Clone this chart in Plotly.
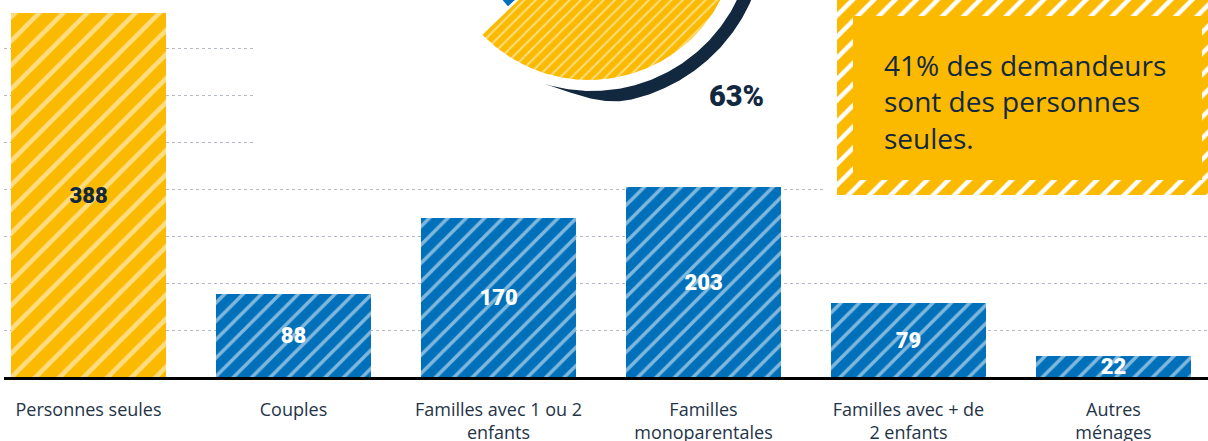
import numpy as np
import plotly.graph_objects as go

# ---- data -------------------------------------------------------------
categories = [
    "Personnes seules",
    "Couples",
    "Familles avec 1 ou 2<br>enfants",
    "Familles<br>monoparentales",
    "Familles avec + de<br>2 enfants",
    "Autres<br>ménages",
]
demandeurs = [388, 88, 170, 203, 79, 22]
highlighted = [True, False, False, False, False, False]

pie_shares = [63, 37]          # highlighted share vs. the rest
pie_label = "63%"
callout_lines = ["41% des demandeurs", "sont des personnes", "seules."]

# ---- style ------------------------------------------------------------
YELLOW = "#FBBA00"
BLUE = "#0070BA"
NAVY = "#12283F"
TEXT = "#243447"
GRID = "#b3bac5"

W, H = 1208, 441
ML, MR, MT, MB = 4, 0, 0, 64
PLOT_W, PLOT_H = W - ML - MR, H - MT - MB
PX_PER_UNIT = 364 / 388.0
Y_MAX = PLOT_H / PX_PER_UNIT
SLOT = 205.0
FIRST_CENTER = 88.5 - ML
X_RANGE = [-FIRST_CENTER / SLOT, (PLOT_W - FIRST_CENTER) / SLOT]


def px_to_x(px):
    return X_RANGE[0] + (px - ML) / SLOT


def px_to_y(py):
    return (PLOT_H + MT - py) / PX_PER_UNIT


fig = go.Figure()

# ---- bars: one trace per colour group so the hatch colours stay fixed ---
groups = [
    (True, YELLOW, NAVY, 17),
    (False, BLUE, "white", 13),
]
for flag, color, txt_color, hatch in groups:
    idx = [i for i, h in enumerate(highlighted) if h == flag]
    vals = [demandeurs[i] for i in idx]
    fig.add_trace(go.Bar(
        x=idx,
        y=vals,
        width=0.756,
        marker=dict(
            color=color,
            line=dict(width=0),
            pattern=dict(shape="/", bgcolor=color, fgcolor="white", fgopacity=0.5,
                         size=hatch, solidity=0.27, fillmode="replace"),
        ),
        text=[str(v) for v in vals],
        textposition="inside",
        insidetextanchor="middle",
        constraintext="none",
        textangle=0,
        textfont=dict(family="Roboto", size=22, weight=900, color=txt_color),
        hoverinfo="skip",
        showlegend=False,
    ))

# ---- pie (drawn in pixel-like overlay coordinates) --------------------
PIE_CX, PIE_CY = 589.0, -68.0
pie_radii = [148.0, 110.0]
pie_colors = [YELLOW, BLUE]
start = 224.0
gap = 1.5


def sector(cx, cy, r, a0, a1, n=200):
    t = np.radians(np.linspace(a0, a1, n))
    xs = np.concatenate([[cx], cx + r * np.cos(t), [cx]])
    ys = np.concatenate([[cy], cy - r * np.sin(t), [cy]])
    return xs, ys


def filled(xs, ys, color, pattern=None):
    return go.Scatter(
        x=xs, y=ys, xaxis="x2", yaxis="y2", mode="lines",
        line=dict(width=0, color=color), fill="toself", fillcolor=color,
        fillpattern=pattern, hoverinfo="skip", showlegend=False,
    )


a = start
for share, r, col, g in zip(pie_shares, pie_radii, pie_colors, [0.0, gap]):
    sweep = share / sum(pie_shares) * 360.0
    xs, ys = sector(PIE_CX, PIE_CY, r, a + g, a + sweep - g)
    pat = dict(shape="/", fgcolor="white", fgopacity=0.5, size=8, solidity=0.25) if col == YELLOW else None
    fig.add_trace(filled(xs, ys, col, pat))
    a += sweep

# dark arc around the highlighted share
ARC_CX, ARC_CY = 592.0, -70.0
R_IN, R_OUT = 161.0, 174.0
arc0 = 253.0
arc_sweep = pie_shares[0] / sum(pie_shares) * 360.0
th = np.linspace(arc0, arc0 + arc_sweep, 400)
ramp = np.clip((th - arc0) / 30.0, 0, 1)
ramp = ramp * ramp * (3 - 2 * ramp)
r_out = R_IN + (R_OUT - R_IN) * ramp
tr = np.radians(th)
ax_ = np.concatenate([ARC_CX + r_out * np.cos(tr), (ARC_CX + R_IN * np.cos(tr))[::-1]])
ay_ = np.concatenate([ARC_CY - r_out * np.sin(tr), (ARC_CY - R_IN * np.sin(tr))[::-1]])
fig.add_trace(filled(ax_, ay_, NAVY))

# ---- callout box with hatched border ----------------------------------
BX0, BX1, BY0, BY1 = 837, 1212, -2, 195
fig.add_trace(filled([BX0, BX1, BX1, BX0, BX0], [BY0, BY0, BY1, BY1, BY0], YELLOW,
                     dict(shape="/", fgcolor="white", fgopacity=1.0, size=15, solidity=0.3)))
IX0, IX1, IY0, IY1 = 853, 1202, 16, 180
fig.add_trace(filled([IX0, IX1, IX1, IX0, IX0], [IY0, IY0, IY1, IY1, IY0], YELLOW))

# masks that interrupt the gridlines behind the pie and the callout
shapes = [
    dict(type="rect", xref="x", yref="y", x0=px_to_x(256), x1=px_to_x(1212),
         y0=px_to_y(160), y1=px_to_y(-5),
         fillcolor="white", line=dict(width=0), layer="between"),
    dict(type="rect", xref="x", yref="y", x0=px_to_x(823), x1=px_to_x(1212),
         y0=px_to_y(200), y1=px_to_y(-5),
         fillcolor="white", line=dict(width=0), layer="between"),
]

annotations = [
    dict(text="<br>".join(callout_lines), xref="x2", yref="y2", x=882, y=101,
         xanchor="left", yanchor="middle", align="left", showarrow=False,
         font=dict(family="Open Sans", size=28, color=NAVY)),
    dict(text=pie_label, xref="x2", yref="y2", x=736, y=96,
         xanchor="center", yanchor="middle", showarrow=False,
         font=dict(family="Roboto", size=29, weight=900, color=NAVY)),
]

fig.update_layout(
    width=W, height=H,
    margin=dict(l=ML, r=MR, t=MT, b=MB, pad=0, autoexpand=False),
    paper_bgcolor="white", plot_bgcolor="white",
    barmode="overlay",
    bargap=0,
    xaxis=dict(
        range=X_RANGE, tickvals=list(range(len(categories))), ticktext=categories,
        showline=True, linecolor="black", linewidth=3, showgrid=False, zeroline=False,
        ticks="outside", ticklen=14, tickcolor="rgba(0,0,0,0)",
        tickfont=dict(family="Open Sans", size=18, color=TEXT),
        automargin=False, fixedrange=True,
    ),
    yaxis=dict(
        range=[0, Y_MAX], tickvals=[50, 100, 150, 200, 250, 300, 350],
        showticklabels=False, showgrid=True, gridcolor=GRID, griddash="dot",
        gridwidth=1, zeroline=False, showline=False, automargin=False, fixedrange=True,
    ),
    xaxis2=dict(overlaying="x", range=[ML, W - MR], visible=False, fixedrange=True,
                automargin=False),
    yaxis2=dict(overlaying="y", range=[PLOT_H + MT, MT], visible=False, fixedrange=True,
                automargin=False),
    shapes=shapes,
    annotations=annotations,
)

fig.write_html("out.html")
